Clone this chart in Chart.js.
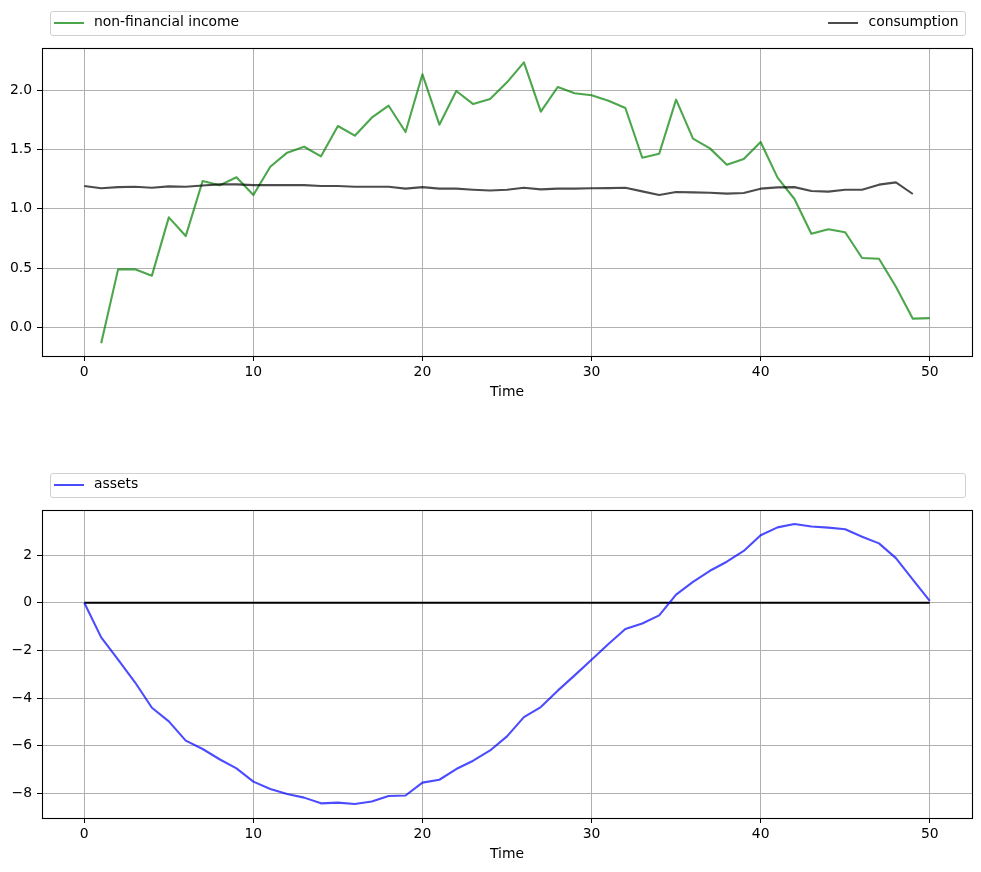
<!DOCTYPE html>
<html>
<head>
<meta charset="utf-8">
<script src="https://cdn.jsdelivr.net/npm/chart.js@4.4.1/dist/chart.umd.min.js"></script>
<style>
  html, body { margin: 0; padding: 0; background: #fff; }
  body { width: 981px; height: 872px; position: relative; overflow: hidden; font-family: "DejaVu Sans", sans-serif; }
  .wrap { position: absolute; left: 0; width: 981px; }
  canvas { display: block; }
  .legend { position: absolute; box-sizing: border-box; border: 1px solid #d0d0d0; border-radius: 3px; background: rgba(255,255,255,0.8); font-size: 13.9px; color: #000; }
  .swatch { position: absolute; width: 30px; height: 2px; }
  .label { position: absolute; white-space: nowrap; line-height: 16px; }
</style>
</head>
<body>
<div class="wrap" style="top:0;height:420px"><canvas id="c1" width="981" height="420"></canvas></div>
<div class="wrap" style="top:440px;height:432px"><canvas id="c2" width="981" height="432"></canvas></div>

<div class="legend" style="left:49.5px;top:10.5px;width:916px;height:25px">
  <div class="swatch" style="left:3.5px;top:10.5px;background:rgba(0,128,0,0.7)"></div>
  <div class="label" style="left:43.5px;top:1.5px" id="lg1"></div>
  <div class="swatch" style="left:777px;top:10.5px;background:rgba(0,0,0,0.7)"></div>
  <div class="label" style="left:818px;top:1.5px" id="lg2"></div>
</div>
<div class="legend" style="left:49.5px;top:472.5px;width:916px;height:25px">
  <div class="swatch" style="left:3.5px;top:10.5px;background:rgba(0,0,255,0.7)"></div>
  <div class="label" style="left:43.5px;top:1.5px" id="lg3"></div>
</div>

<script>
// ---- data ----
const time = [0,1,2,3,4,5,6,7,8,9,10,11,12,13,14,15,16,17,18,19,20,21,22,23,24,25,26,27,28,29,30,31,32,33,34,35,36,37,38,39,40,41,42,43,44,45,46,47,48,49,50];
const income = [null,-0.135,0.489,0.49,0.436,0.928,0.77,1.235,1.198,1.266,
  1.116,1.355,1.474,1.524,1.443,1.699,1.617,1.769,1.87,1.648,
  2.135,1.71,1.994,1.884,1.927,2.067,2.236,1.82,2.028,1.975,
  1.958,1.912,1.851,1.431,1.465,1.921,1.592,1.51,1.372,1.42,
  1.564,1.263,1.083,0.79,0.827,0.802,0.585,0.579,0.343,0.073,0.078];
const consumption = [1.192,1.173,1.183,1.186,1.178,1.189,1.186,1.197,1.206,1.206,
  1.2,1.2,1.2,1.2,1.192,1.192,1.186,1.186,1.186,1.17,
  1.183,1.17,1.17,1.161,1.155,1.161,1.178,1.164,1.17,1.17,
  1.173,1.175,1.178,1.147,1.116,1.142,1.139,1.136,1.128,1.133,
  1.17,1.181,1.183,1.15,1.145,1.161,1.161,1.204,1.223,1.125];
const assets = [0,-1.456,-2.39,-3.34,-4.41,-4.98,-5.79,-6.14,-6.57,-6.95,
  -7.51,-7.82,-8.03,-8.18,-8.42,-8.39,-8.45,-8.34,-8.11,-8.09,
  -7.55,-7.43,-6.98,-6.63,-6.2,-5.61,-4.8,-4.38,-3.69,-3.05,
  -2.39,-1.73,-1.1,-0.87,-0.53,0.34,0.87,1.34,1.72,2.17,
  2.83,3.16,3.3,3.2,3.15,3.08,2.77,2.49,1.87,0.97,0.08];
const baselineX = [0, 50];
const baselineY = [0, 0];
const xTicks = [0,10,20,30,40,50];
const yTicksTop = [0.0,0.5,1.0,1.5,2.0];
const yTicksBottom = [-8,-6,-4,-2,0,2];
const seriesNames = ['non-financial income','consumption','assets'];
const xTitle = 'Time';

document.getElementById('lg1').textContent = seriesNames[0];
document.getElementById('lg2').textContent = seriesNames[1];
document.getElementById('lg3').textContent = seriesNames[2];

// ---- helpers ----
const FONT = {family: '"DejaVu Sans", sans-serif', size: 13.9, lineHeight: 1.2};
function pts(xs, ys) {
  const out = [];
  for (let i = 0; i < ys.length; i++) out.push({x: xs[i], y: ys[i]});
  return out;
}
const frame = {
  id: 'frame',
  afterDraw(chart) {
    const a = chart.chartArea, ctx = chart.ctx;
    ctx.save();
    ctx.strokeStyle = '#000';
    ctx.lineWidth = 1.1;
    ctx.strokeRect(Math.round(a.left) + 0.5, Math.round(a.top) + 0.5,
      Math.round(a.right - a.left), Math.round(a.bottom - a.top));
    ctx.restore();
  }
};
function fmtMinus(v) { return String(v).replace('-', '\u2212'); }

function makeChart(id, datasets, yMin, yMax, yTicks, yFmt, padTop, xAxisHeight, titlePadBottom) {
  return new Chart(document.getElementById(id), {
    type: 'line',
    data: {datasets},
    options: {
      responsive: false,
      animation: false,
      events: [],
      layout: {padding: {left: 0, right: 9, top: padTop, bottom: 0}},
      plugins: {legend: {display: false}, tooltip: {enabled: false}},
      elements: {point: {radius: 0}, line: {tension: 0, borderWidth: 2.1, borderCapStyle: 'butt', borderJoinStyle: 'round'}},
      scales: {
        x: {
          type: 'linear', min: -2.5, max: 52.5,
          afterBuildTicks: s => { s.ticks = xTicks.map(v => ({value: v})); },
          afterFit: s => { s.height = xAxisHeight; },
          grid: {color: '#b0b0b0', lineWidth: 1, tickColor: '#000', tickLength: 5, tickWidth: 1},
          border: {display: false},
          ticks: {color: '#000', font: FONT, padding: 3, maxRotation: 0, autoSkip: false, callback: v => fmtMinus(v)},
          title: {display: true, text: xTitle, color: '#000', font: FONT, padding: {top: 0, bottom: titlePadBottom}}
        },
        y: {
          type: 'linear', min: yMin, max: yMax,
          afterBuildTicks: s => { s.ticks = yTicks.map(v => ({value: v})); },
          afterFit: s => { s.width = 42; },
          grid: {color: '#b0b0b0', lineWidth: 1, tickColor: '#000', tickLength: 5, tickWidth: 1},
          border: {display: false},
          ticks: {color: '#000', font: FONT, padding: 5, autoSkip: false, callback: yFmt}
        }
      }
    },
    plugins: [frame]
  });
}

makeChart('c1', [
  {label: seriesNames[1], data: pts(time, consumption), borderColor: 'rgba(0,0,0,0.7)'},
  {label: seriesNames[0], data: pts(time, income), borderColor: 'rgba(0,128,0,0.7)'}
], -0.242, 2.357, yTicksTop, v => Number(v).toFixed(1), 48, 64, 19.7);

makeChart('c2', [
  {label: seriesNames[2], data: pts(time, assets), borderColor: 'rgba(0,0,255,0.7)'},
  {label: 'zero', data: pts(baselineX, baselineY), borderColor: '#000', borderWidth: 2}
], -9.035, 3.89, yTicksBottom, v => fmtMinus(v), 70, 54, 9.7);
</script>
</body>
</html>
